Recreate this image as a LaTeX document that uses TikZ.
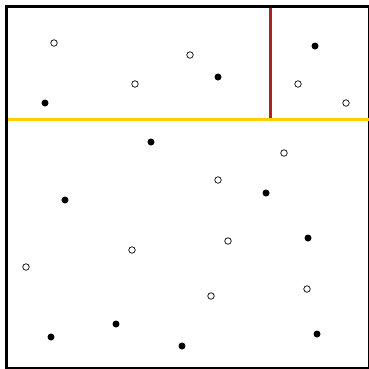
\documentclass[tikz,border=0pt]{standalone}
\usepackage{tikz}
\definecolor{amarelo}{HTML}{FFCC00}
\definecolor{vermelho}{HTML}{AA2222}

\begin{document}
\begin{tikzpicture}[x=1pt,y=-1pt,
    vazio/.style={circle, draw=black, line width=0.7pt, fill=white, minimum size=6.5pt, inner sep=0pt},
    cheio/.style={circle, fill=black, minimum size=7pt, inner sep=0pt},
    corte/.style={line width=3pt}]
  \useasboundingbox (0,0) rectangle (369,368);
  \clip (0,0) rectangle (369,368);
  \draw[line width=3pt] (6.5,6.5) rectangle (369.9,368.9);
  % pontos vazios
  \foreach \x/\y [count=\i] in {54/43,190/55,135/84,298/84,346/103,284/153,218/180,228/241,132/250,26/267,307/289,211/296}
    {\node[vazio] (v\i) at (\x,\y) {};}
  % pontos cheios
  \foreach \x/\y [count=\i] in {315/46,218/77,45/103,151/142,266/193,65/200,308/238,116/324,317/334,51/337,182/346}
    {\node[cheio] (c\i) at (\x,\y) {};}
  % cortes
  \coordinate (h1) at (8,119);
  \coordinate (h2) at (369,119);
  \coordinate (r1) at (270,8);
  \coordinate (r2) at (270,119);
  \draw[corte, vermelho] (r1) -- (r2);
  \draw[corte, amarelo] (h1) -- (h2);
\end{tikzpicture}
\end{document}
